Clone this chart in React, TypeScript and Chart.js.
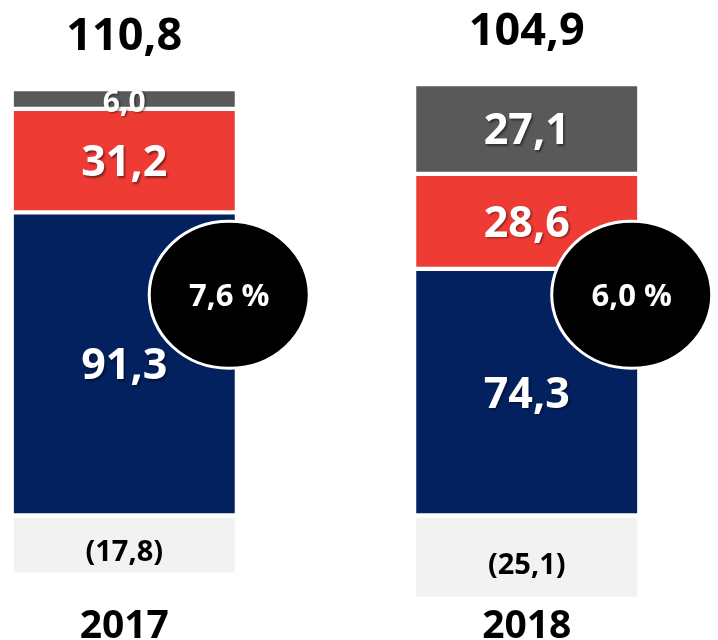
import React, { useEffect, useRef } from "react";
import { Chart, registerables } from "chart.js";

Chart.register(...registerables);

const years = ["2017", "2018"];
const coreValues = [91.3, 74.3];
const redValues = [31.2, 28.6];
const greyValues = [6.0, 27.1];
const negativeValues = [-17.8, -25.1];
const totals = [110.8, 104.9];
const growth = ["7,6 %", "6,0 %"];
const growthLevel = 66.5;

const FONT = '"Open Sans", "DejaVu Sans", sans-serif';

const fmt = (v: number) =>
  v < 0 ? `(${Math.abs(v).toFixed(1).replace(".", ",")})` : v.toFixed(1).replace(".", ",");

const labelPlugin = {
  id: "customLabels",
  afterDatasetsDraw(chart: any) {
    const ctx = chart.ctx as CanvasRenderingContext2D;
    ctx.save();
    ctx.textAlign = "center";
    ctx.textBaseline = "alphabetic";
    const capCentered = (text: string, x: number, cy: number, size: number) => {
      ctx.fillText(text, x, cy + size * 0.357);
    };
    chart.data.datasets.forEach((ds: any, di: number) => {
      const meta = chart.getDatasetMeta(di);
      meta.data.forEach((el: any, i: number) => {
        const { x, y, base } = el.getProps(["x", "y", "base"], true);
        const v = ds.data[i];
        let cy = (y + base) / 2;
        let size = 43;
        ctx.save();
        if (v < 0) {
          size = 29;
          cy += 6;
          ctx.fillStyle = "#000000";
          ctx.font = `bold ${size}px ${FONT}`;
        } else {
          if (Math.abs(base - y) < 40) {
            size = 30;
            cy += 2;
          }
          ctx.fillStyle = "#ffffff";
          ctx.font = `bold ${size}px ${FONT}`;
          ctx.shadowColor = "rgba(0,0,0,0.45)";
          ctx.shadowOffsetX = 1.5;
          ctx.shadowOffsetY = 1.5;
          ctx.shadowBlur = 2;
        }
        capCentered(fmt(v), x, cy, size);
        ctx.restore();
      });
    });

    // growth bubbles
    const meta0 = chart.getDatasetMeta(0);
    const yScale = chart.scales.y;
    meta0.data.forEach((el: any, i: number) => {
      const { x, width } = el.getProps(["x", "width"], true);
      const cx = x + width * 0.475;
      const cy = yScale.getPixelForValue(growthLevel);
      ctx.beginPath();
      ctx.ellipse(cx, cy, 80, 73.5, 0, 0, Math.PI * 2);
      ctx.fillStyle = "#000000";
      ctx.fill();
      ctx.lineWidth = 3;
      ctx.strokeStyle = "#ffffff";
      ctx.stroke();
      ctx.fillStyle = "#ffffff";
      ctx.font = `bold 31px ${FONT}`;
      capCentered(growth[i], cx, cy, 31);
    });

    // totals and years
    const topMeta = chart.getDatasetMeta(2);
    meta0.data.forEach((el: any, i: number) => {
      const { x } = el.getProps(["x"], true);
      const top = topMeta.data[i].getProps(["y"], true).y;
      ctx.fillStyle = "#000000";
      ctx.font = `bold 45px ${FONT}`;
      ctx.fillText(fmt(totals[i]), x, top - 38.5);
      ctx.font = `bold 39px ${FONT}`;
      ctx.fillText(years[i], x, 638);
    });
    ctx.restore();
  },
};

export default function App() {
  const canvasRef = useRef<HTMLCanvasElement | null>(null);

  useEffect(() => {
    if (!canvasRef.current) return;
    const border = { top: 2.5, bottom: 2.5, left: 0, right: 0 };
    const chart = new Chart(canvasRef.current, {
      type: "bar",
      data: {
        labels: years,
        datasets: [
          { label: "core", data: coreValues, backgroundColor: "#03205f", borderColor: "#ffffff", borderWidth: border, borderSkipped: false },
          { label: "red", data: redValues, backgroundColor: "#ee3b34", borderColor: "#ffffff", borderWidth: border, borderSkipped: false },
          { label: "grey", data: greyValues, backgroundColor: "#595959", borderColor: "#ffffff", borderWidth: border, borderSkipped: false },
          { label: "neg", data: negativeValues, backgroundColor: "#f2f2f2", borderColor: "#ffffff", borderWidth: border, borderSkipped: false },
        ],
      } as any,
      options: {
        animation: false,
        responsive: false,
        layout: { padding: 0 },
        datasets: { bar: { barThickness: 221 } } as any,
        plugins: { legend: { display: false }, tooltip: { enabled: false }, title: { display: false } },
        scales: {
          x: { stacked: true, display: false, offset: true },
          y: { stacked: true, display: false, min: -37.5, max: 155.3 },
        },
      },
      plugins: [labelPlugin],
    });
    return () => chart.destroy();
  }, []);

  return (
    <div style={{ position: "fixed", left: 0, top: 0, width: 718, height: 640, overflow: "hidden", background: "#ffffff" }}>
      <canvas
        ref={canvasRef}
        width={805}
        height={640}
        style={{ position: "absolute", left: -77, top: 0, width: 805, height: 640 }}
      />
    </div>
  );
}
